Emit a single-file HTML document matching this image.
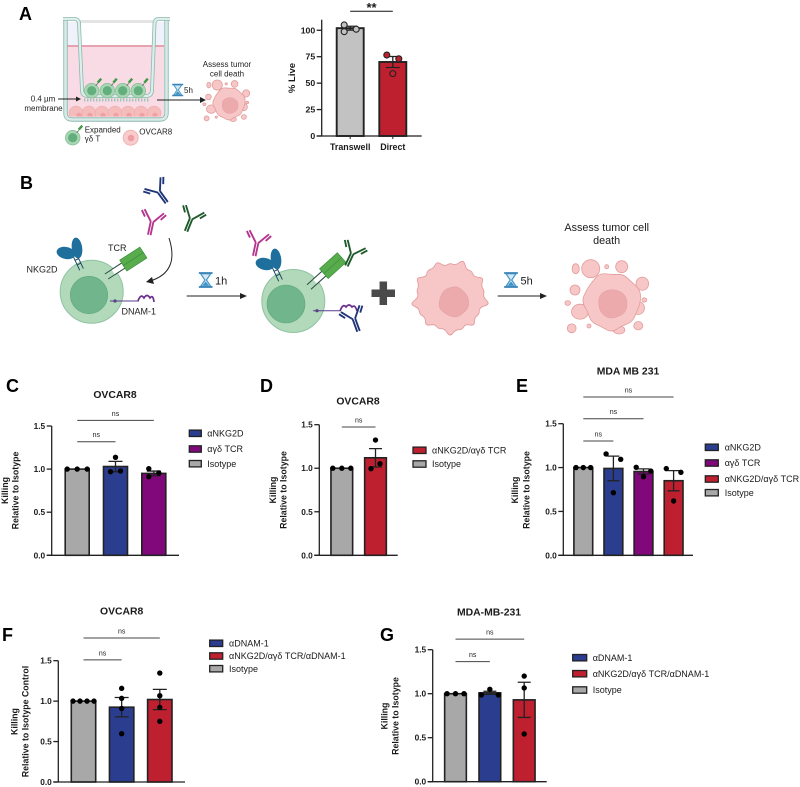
<!DOCTYPE html>
<html>
<head>
<meta charset="utf-8">
<title>Gamma delta T cell killing figure</title>
<style>
html,body{margin:0;padding:0;background:#fff;width:800px;height:787px;overflow:hidden}
svg{display:block;filter:blur(.35px)}
text{font-family:"Liberation Sans","DejaVu Sans",sans-serif;fill:#1a1a1a}
.panel{font-size:18px;font-weight:700;fill:#000}
.ill{font-size:8px;fill:#222}
.ill2{font-size:9px;fill:#222}
</style>
</head>
<body>
<svg id="figure" xmlns="http://www.w3.org/2000/svg" width="800" height="787" viewBox="0 0 800 787">
<defs>
  <g id="ab" fill="none" stroke="currentColor" stroke-width="1.7" stroke-linecap="butt">
    <path d="M-1.2,0V12M1.2,0V12"/>
    <path d="M-1,0L-9,-10M1,0L9,-10"/>
    <path d="M-7.3,-3.5L-11.3,-8.8M7.3,-3.5L11.3,-8.8"/>
  </g>
  <g id="hourglass">
    <path d="M-4,-5L4,-5L0.6,0L4,5H-4L-0.6,0Z" fill="#d6e9f5" stroke="#4a9ac8" stroke-width="1"/>
    <path d="M-2.6,4.4H2.6L0,1.2Z" fill="#3c93c8"/>
    <path d="M-5.5,-5.6H5.5M-5.5,5.6H5.5" stroke="#3a84b8" stroke-width="1.4"/>
  </g>
  <g id="tcell-small">
    <circle r="7.3" fill="#a9d6b2" stroke="#86bd98" stroke-width=".7"/>
    <circle r="4.6" fill="#62ae7d"/>
    <path d="M4,-5L6,-7.5" stroke="#666" stroke-width=".8"/>
    <path d="M6,-8L9.5,-12" stroke="#3f9a45" stroke-width="2.4"/>
  </g>
  <g id="tcr">
    <path d="M0,-3H20M0,3H20" stroke="#2d4a44" stroke-width="1"/>
    <rect x="8" y="-3" width="12" height="6" fill="#fff"/>
    <path d="M8,-3H20M8,3H20" stroke="#2d4a44" stroke-width="1"/>
    <rect x="20" y="-6.5" width="24" height="6.5" fill="#58ac4c" stroke="#3d9040" stroke-width=".7"/>
    <rect x="20" y="0" width="24" height="6.5" fill="#58ac4c" stroke="#3d9040" stroke-width=".7"/>
  </g>
  <g id="nkg2d">
    <path d="M-2,-10L-2,6M2,-10L2,6M-2,-5H2M-2,0H2" transform="rotate(-25)" stroke="#1d4a63" stroke-width="1" fill="none"/>
    <ellipse cx="-13" cy="-11" rx="9.5" ry="6" transform="rotate(12 -13 -11)" fill="#1f6f9c"/>
    <ellipse cx="-2" cy="-16" rx="5.2" ry="10.5" transform="rotate(-8 -2 -16)" fill="#1f6f9c"/>
  </g>
  <clipPath id="well-clip"><rect x="67" y="98" width="97" height="18.5"/></clipPath>
</defs>

<g id="panel-labels">
  <text class="panel" x="19" y="20">A</text>
  <text class="panel" x="20" y="189">B</text>
  <text class="panel" x="6" y="392">C</text>
  <text class="panel" x="260" y="392">D</text>
  <text class="panel" x="516" y="392">E</text>
  <text class="panel" x="2" y="641">F</text>
  <text class="panel" x="380" y="641">G</text>
</g>

<g id="transwell-illustration">
  <rect x="67" y="22" width="97" height="23" fill="#eff2fa"/>
  <rect x="67" y="45" width="97" height="72" fill="#f9dbe6"/>
  <path d="M80,22H153L153,45H80Z" fill="#fff"/>
  <rect x="80" y="20" width="73" height="3" fill="#e4e4e4"/>
  <rect x="67" y="45" width="97" height="2" fill="#e6a2ae"/>
  <g clip-path="url(#well-clip)">
    <g fill="#f5bcbc" stroke="#eda5a5" stroke-width=".5">
      <circle cx="76" cy="113" r="7"/><circle cx="89" cy="113" r="7"/><circle cx="102" cy="113" r="7"/><circle cx="115" cy="113" r="7"/><circle cx="128" cy="113" r="7"/><circle cx="141" cy="113" r="7"/><circle cx="154" cy="113" r="7"/>
    </g>
    <g fill="#ef9fa2">
      <circle cx="79" cy="115.500" r="2.700"/><circle cx="90" cy="115.500" r="2.700"/><circle cx="103" cy="115.500" r="2.700"/><circle cx="116" cy="115.500" r="2.700"/><circle cx="129" cy="115.500" r="2.700"/><circle cx="142" cy="115.500" r="2.700"/><circle cx="155" cy="115.500" r="2.700"/>
    </g>
  </g>
  <path d="M65.5,20V113Q65.5,119.5 72,119.5H160Q166.5,119.5 166.5,113V20" fill="none" stroke="#8fb8b0" stroke-width="4.4"/>
  <path d="M65.5,20V113Q65.5,119.5 72,119.5H160Q166.5,119.5 166.5,113V20" fill="none" stroke="#d8ebe7" stroke-width="2.6"/>
  <path d="M63,19H74Q79,19 79,24L82,90Q82,96 88,96H146Q152,96 152,90L154.500,24Q154.500,19 159,19H170" fill="none" stroke="#8fb8b0" stroke-width="3.8"/>
  <path d="M63,19H74Q79,19 79,24L82,90Q82,96 88,96H146Q152,96 152,90L154.500,24Q154.500,19 159,19H170" fill="none" stroke="#dcefea" stroke-width="2.200"/>
  <path d="M84,100H150" stroke="#9fc5bb" stroke-width="3" stroke-dasharray="1.4,1.6"/>
  <use href="#tcell-small" x="91.700" y="90.700"/>
  <use href="#tcell-small" x="107.300" y="90.700"/>
  <use href="#tcell-small" x="122.700" y="90.700"/>
  <use href="#tcell-small" x="138.300" y="90.700"/>
  <path d="M58,99H77" stroke="#222" stroke-width=".9"/><path d="M81,99L76,96.500V101.500Z" fill="#222"/>
  <text class="ill" x="43" y="101.500" text-anchor="middle">0.4 µm</text>
  <text class="ill" x="43.500" y="111" text-anchor="middle">membrane</text>
  <path d="M157,100H201" stroke="#222" stroke-width=".9"/><path d="M206,100L200,97V103Z" fill="#222"/>
  <use href="#hourglass" x="177.700" y="90"/>
  <text class="ill" x="184" y="93">5h</text>
  <text class="ill" x="227" y="67" text-anchor="middle">Assess tumor</text>
  <text class="ill" x="227" y="76.500" text-anchor="middle">cell death</text>
  <g id="dead-cell-small"></g>
  <use href="#tcell-small" x="72.700" y="137.700"/>
  <text class="ill" x="84.700" y="132.500">Expanded</text>
  <text class="ill" x="84.700" y="141.500">γδ T</text>
  <circle cx="130.700" cy="137.700" r="7.500" fill="#f8cccc" stroke="#f0b5b5"/>
  <circle cx="131" cy="138" r="3.300" fill="#ec9fa2"/>
  <text class="ill" x="139.300" y="134.500">OVCAR8</text>
</g>

<g id="workflow-illustration">
  <use href="#ab" transform="translate(159,192) rotate(-36) scale(1.1)" color="#1f3578"/>
  <use href="#ab" transform="translate(152,222) rotate(12) scale(1.1)" color="#b5358f"/>
  <use href="#ab" transform="translate(191,219) rotate(22) scale(1.1)" color="#1f5a2c"/>

  <circle cx="91.700" cy="291.700" r="31.500" fill="#b1d9ba" stroke="#8fc3a2"/>
  <circle cx="89" cy="295" r="18.700" fill="#70b58b" stroke="#5da67a" stroke-width=".6"/>
  <use href="#nkg2d" transform="translate(79,264)"/>
  <use href="#tcr" transform="translate(106.500,276.500) rotate(-33)"/>
  <path d="M110,301H139" stroke="#5a3d8c" stroke-width="1"/><circle cx="115" cy="301" r="1.600" fill="#5a3d8c"/>
  <path d="M138,301Q141,293 144,298Q147,293 150,298Q153,294 154,302" fill="none" stroke="#6b2f8c" stroke-width="1.700"/>
  <text class="ill2" x="108" y="251">TCR</text>
  <text class="ill2" x="26.500" y="272.500">NKG2D</text>
  <text class="ill2" x="121.500" y="314.500">DNAM-1</text>
  <path d="M169,238Q180,272 150,281" fill="none" stroke="#222" stroke-width="1"/><path d="M146,282L152,277L154,284Z" fill="#222"/>

  <path d="M186.700,296H241" stroke="#222" stroke-width="1"/><path d="M247,296L240,293V299Z" fill="#222"/>
  <use href="#hourglass" transform="translate(205.700,280) scale(1.250)"/>
  <text x="215" y="284.500" font-size="11">1h</text>

  <circle cx="293.300" cy="301" r="31.500" fill="#b1d9ba" stroke="#8fc3a2"/>
  <circle cx="286" cy="304" r="19" fill="#70b58b" stroke="#5da67a" stroke-width=".6"/>
  <use href="#nkg2d" transform="translate(278,275)"/>
  <use href="#ab" transform="translate(257,243) rotate(12) scale(1.1)" color="#b5358f"/>
  <use href="#tcr" transform="translate(309,287) rotate(-42)"/>
  <use href="#ab" transform="translate(352,254) rotate(25) scale(1.1)" color="#1f5a2c"/>
  <path d="M313,310.700H341" stroke="#5a3d8c" stroke-width="1"/><circle cx="317" cy="310.700" r="1.600" fill="#5a3d8c"/>
  <path d="M340,311Q343,303 346,307Q349,303 352,307Q355,304 357,311" fill="none" stroke="#6b2f8c" stroke-width="1.700"/>
  <use href="#ab" transform="translate(354,319) rotate(-20) scale(1.1)" color="#1f3578"/>

  <path d="M383.300,281.500V305M371.500,293.300H395" stroke="#4a4a4a" stroke-width="7.500"/>

  <path id="tumor-main" fill="#f7c7c7" stroke="#e29c9c" stroke-width=".9"/>
  <path id="tumor-main-nucleus" fill="#ecaaac" stroke="#e19b9e" stroke-width=".5"/>

  <path d="M497.700,296H541" stroke="#222" stroke-width="1"/><path d="M547,296L540,293V299Z" fill="#222"/>
  <use href="#hourglass" transform="translate(511,280) scale(1.250)"/>
  <text x="520.500" y="284.500" font-size="11">5h</text>

  <text x="606.700" y="231" font-size="10.800" text-anchor="middle">Assess tumor cell</text>
  <text x="606.700" y="244" font-size="10.800" text-anchor="middle">death</text>
  <g id="dead-cell-large"></g>
</g>

<g id="charts"></g>
</svg>

<script>
// ---------- chart data ----------
const aCategories = ["Transwell", "Direct"];
const aMeans = [102, 70];
const aErrors = [1.8, 5.2];
const aPoints = [[105, 101, 98.7], [76.6, 73, 59]];
const aTicks = [0, 25, 50, 75, 100];
const aBrackets = [[0, 1, 118, "**"]];

const cCategories = ["Isotype", "αNKG2D", "αγδ TCR"];
const cMeans = [1.0, 1.03, 0.95];
const cErrors = [0, 0.06, 0.027];
const cPoints = [[1, 1, 1], [1.137, 0.97, 0.978], [1.005, 0.955, 0.912]];
const cTicks = [0, 0.5, 1.0, 1.5];
const cBrackets = [[0, 1, 1.318, "ns"], [0, 2, 1.565, "ns"]];
const cLegend = ["αNKG2D", "αγδ TCR", "Isotype"];

const dCategories = ["Isotype", "αNKG2D/αγδ TCR"];
const dMeans = [1.0, 1.12];
const dErrors = [0, 0.105];
const dPoints = [[1, 1, 1], [1.324, 1.052, 0.995]];
const dTicks = [0, 0.5, 1.0, 1.5];
const dBrackets = [[0, 1, 1.473, "ns"]];
const dLegend = ["αNKG2D/αγδ TCR", "Isotype"];

const eCategories = ["Isotype", "αNKG2D", "αγδ TCR", "αNKG2D/αγδ TCR"];
const eMeans = [1.0, 0.99, 0.955, 0.85];
const eErrors = [0, 0.14, 0.03, 0.115];
const ePoints = [[1, 1, 1], [1.155, 1.094, 0.714], [1.003, 0.96, 0.896], [0.988, 0.946, 0.619]];
const eTicks = [0, 0.5, 1.0, 1.5];
const eBrackets = [[0, 1, 1.303, "ns"], [0, 2, 1.557, "ns"], [0, 3, 1.805, "ns"]];
const eLegend = ["αNKG2D", "αγδ TCR", "αNKG2D/αγδ TCR", "Isotype"];

const fCategories = ["Isotype", "αDNAM-1", "αNKG2D/αγδ TCR/αDNAM-1"];
const fMeans = [1.0, 0.925, 1.02];
const fErrors = [0, 0.12, 0.125];
const fPoints = [[1, 1, 1, 1], [1.158, 1.034, 0.91, 0.597], [1.347, 1.067, 0.923, 0.75]];
const fTicks = [0, 0.5, 1.0, 1.5];
const fBrackets = [[0, 1, 1.51, "ns"], [0, 2, 1.78, "ns"]];
const fLegend = ["αDNAM-1", "αNKG2D/αγδ TCR/αDNAM-1", "Isotype"];

const gCategories = ["Isotype", "αDNAM-1", "αNKG2D/αγδ TCR/αDNAM-1"];
const gMeans = [1.0, 1.01, 0.93];
const gErrors = [0, 0.018, 0.2];
const gPoints = [[1, 1, 1], [1.05, 0.985, 0.985], [1.2, 1.065, 0.542]];
const gTicks = [0, 0.5, 1.0, 1.5];
const gBrackets = [[0, 1, 1.364, "ns"], [0, 2, 1.62, "ns"]];
const gLegend = ["αDNAM-1", "αNKG2D/αγδ TCR/αDNAM-1", "Isotype"];

// ---------- colours by group ----------
const groupColors = {
  "Isotype": "#a8a8a8",
  "αNKG2D": "#2a3d8f",
  "αDNAM-1": "#2a3d8f",
  "αγδ TCR": "#80087a",
  "αNKG2D/αγδ TCR": "#be2030",
  "αNKG2D/αγδ TCR/αDNAM-1": "#be2030",
  "Transwell": "#c2c2c2",
  "Direct": "#be2030"
};

const NS = "http://www.w3.org/2000/svg";
function mk(tag, attrs, parent) {
  const n = document.createElementNS(NS, tag);
  for (const k in attrs) n.setAttribute(k, attrs[k]);
  parent.appendChild(n);
  return n;
}

function drawChart(spec) {
  const root = document.getElementById("charts");
  const g = mk("g", {}, root);
  
  
  const yScale = v => spec.y0 - (v / spec.yMax) * (spec.y0 - spec.yTop);
  const xScale = i => spec.x0 + i * spec.step;
  const ink = "#222";

  // bars
  spec.categories.forEach((c, i) => {
    const bar = mk("rect", {
      x: xScale(i) - spec.barW / 2,
      y: yScale(spec.means[i]),
      width: spec.barW,
      height: spec.y0 - yScale(spec.means[i]),
      fill: groupColors[c], stroke: ink, "stroke-width": spec.barStroke
    }, g);
    
    
  });

  // axes
  const yAxis = mk("line", { x1: spec.axisX, x2: spec.axisX, y1: spec.yTop, y2: spec.y0, stroke: ink, "stroke-width": 1.3 }, g);
  
  
  const xAxis = mk("line", { x1: spec.axisX - 5, x2: spec.xEnd, y1: spec.y0, y2: spec.y0, stroke: ink, "stroke-width": 1.3 }, g);
  
  

  spec.ticks.forEach(t => {
    const tick = mk("line", { x1: spec.axisX - 5, x2: spec.axisX, y1: yScale(t), y2: yScale(t), stroke: ink, "stroke-width": 1.3 }, g);
    
    
    const lab = mk("text", { x: spec.axisX - 6.5, y: yScale(t) + 3, "text-anchor": "end", "font-size": spec.tickSize, "font-weight": 700 }, g);
    
    
    lab.textContent = spec.tickFormat(t);
  });

  // error bars
  spec.categories.forEach((c, i) => {
    if (!spec.errors[i]) return;
    const x = xScale(i), hi = yScale(spec.means[i] + spec.errors[i]), lo = yScale(spec.means[i] - spec.errors[i]);
    const err = mk("path", {
      d: "M" + (x - spec.cap) + "," + hi + "H" + (x + spec.cap) + "M" + x + "," + hi + "V" + lo + "M" + (x - spec.cap) + "," + lo + "H" + (x + spec.cap),
      fill: "none", stroke: ink, "stroke-width": 1.3
    }, g);
    
    
  });

  // points
  spec.points.forEach((series, i) => {
    series.forEach((v, j) => {
      const dot = mk("circle", {
        cx: xScale(i) + spec.lanes[i][j] * spec.laneGap,
        cy: yScale(v),
        r: spec.dotR,
        fill: spec.dotFill ? groupColors[spec.categories[i]] : "#000",
        stroke: spec.dotFill ? "#222" : "none",
        "stroke-width": 1.1
      }, g);
      
      
    });
  });

  // significance brackets
  spec.brackets.forEach(b => {
    const y = yScale(b[2]);
    const stars = b[3] === "**";
    const line = mk("line", { x1: xScale(b[0]), x2: xScale(b[1]), y1: y, y2: y, stroke: stars ? "#111" : "#444", "stroke-width": 1 }, g);
    
    
    const t = mk("text", {
      x: (xScale(b[0]) + xScale(b[1])) / 2,
      y: stars ? y + 0.5 : y - 4.5,
      "text-anchor": "middle",
      "font-size": stars ? 13 : 7,
      "font-weight": stars ? 700 : 400,
      fill: stars ? "#000" : "#333"
    }, g);
    
    
    t.textContent = b[3];
  });

  // title
  if (spec.title) {
    const title = mk("text", { x: spec.titleX, y: spec.titleY, "text-anchor": "middle", "font-size": 10.4, "font-weight": 700 }, g);
    
    
    title.textContent = spec.title;
  }

  // y axis title
  spec.yTitle.forEach((line, i) => {
    const px = spec.yTitleX[i], py = spec.yTitleY;
    const t = mk("text", { x: px, y: py, transform: "rotate(-90 " + px + " " + py + ")", "text-anchor": "middle", "font-size": spec.yTitleSize, "font-weight": 700 }, g);
    
    
    t.textContent = line;
  });

  // x labels (panel A only)
  if (spec.xLabels) {
    spec.categories.forEach((c, i) => {
      const tick = mk("line", { x1: xScale(i), x2: xScale(i), y1: spec.y0, y2: spec.y0 + 3, stroke: ink, "stroke-width": 1 }, g);
      
      
      const t = mk("text", { x: xScale(i), y: spec.y0 + 14, "text-anchor": "middle", "font-size": 8.9, "font-weight": 700 }, g);
      
      
      t.textContent = c;
    });
  }

  // legend
  if (spec.legend) {
    spec.legend.forEach((name, i) => {
      const row = mk("g", {}, g);
      
      
      const y = spec.legendY[i];
      const sw = mk("rect", { x: spec.legendX, y: y - 3.2, width: spec.legendW, height: 6.4, fill: groupColors[name], stroke: "#222", "stroke-width": 1.3 }, row);
      
      
      const t = mk("text", { x: spec.legendTextX, y: y + 3.1, "font-size": 9, fill: "#222" }, row);
      
      
      t.textContent = name;
    });
  }
}

const oneDecimal = t => t.toFixed(1);

drawChart({ id: "a", categories: aCategories, means: aMeans, errors: aErrors, points: aPoints, ticks: aTicks, brackets: aBrackets,
  y0: 136, yTop: 19.7, yMax: 110, axisX: 321.7, xEnd: 421.7, x0: 350.2, step: 42.6, barW: 27, cap: 7, barStroke: 1.9, tickSize: 8.7,
  lanes: [[-1, 1, -1], [-1, 1, 0]], laneGap: 6, dotR: 3, dotFill: true, tickFormat: t => String(t),
  yTitle: ["% Live"], yTitleX: [295], yTitleY: 78, yTitleSize: 9.5, xLabels: true });

drawChart({ id: "c", title: "OVCAR8", titleX: 115, titleY: 398, categories: cCategories, means: cMeans, errors: cErrors, points: cPoints, ticks: cTicks, brackets: cBrackets,
  y0: 555.3, yTop: 426, yMax: 1.5, axisX: 51.7, xEnd: 179, x0: 77.2, step: 38.3, barW: 24, cap: 7, barStroke: 1.6, tickSize: 8.3,
  lanes: [[-1, 0, 1], [0, -0.5, 0.5], [-0.5, 0.5, -0.5]], laneGap: 10, dotR: 2.7, tickFormat: oneDecimal,
  yTitle: ["Killing", "Relative to Isotype"], yTitleX: [8, 18.6], yTitleY: 490.5, yTitleSize: 8.8,
  legend: cLegend, legendX: 189.3, legendW: 12, legendTextX: 207.3, legendY: [433.3, 449, 463.7] });

drawChart({ id: "d", title: "OVCAR8", titleX: 358, titleY: 404.7, categories: dCategories, means: dMeans, errors: dErrors, points: dPoints, ticks: dTicks, brackets: dBrackets,
  y0: 555.3, yTop: 424.7, yMax: 1.5, axisX: 319.3, xEnd: 397.7, x0: 341.8, step: 33.7, barW: 21.7, cap: 6.5, barStroke: 1.6, tickSize: 8.3,
  lanes: [[-1, 0, 1], [0, 0.5, -0.5]], laneGap: 9, dotR: 2.7, tickFormat: oneDecimal,
  yTitle: ["Killing", "Relative to Isotype"], yTitleX: [276, 286.3], yTitleY: 490, yTitleSize: 8.8,
  legend: dLegend, legendX: 413, legendW: 13, legendTextX: 432, legendY: [450.3, 464] });

drawChart({ id: "e", title: "MDA MB 231", titleX: 628, titleY: 374.7, categories: eCategories, means: eMeans, errors: eErrors, points: ePoints, ticks: eTicks, brackets: eBrackets,
  y0: 555.3, yTop: 423.7, yMax: 1.5, axisX: 563.3, xEnd: 693, x0: 583.3, step: 30.1, barW: 18.8, cap: 6, barStroke: 1.6, tickSize: 8.3,
  lanes: [[-1, 0, 1], [-1, 1, 0], [-1, 1, 0], [-1, 1, 0]], laneGap: 7.3, dotR: 2.7, tickFormat: oneDecimal,
  yTitle: ["Killing", "Relative to Isotype"], yTitleX: [518, 529.3], yTitleY: 490, yTitleSize: 8.8,
  legend: eLegend, legendX: 705.3, legendW: 13, legendTextX: 724.7, legendY: [447.3, 463, 479, 492.7] });

drawChart({ id: "f", title: "OVCAR8", titleX: 121.7, titleY: 614.7, categories: fCategories, means: fMeans, errors: fErrors, points: fPoints, ticks: fTicks, brackets: fBrackets,
  y0: 782, yTop: 660.7, yMax: 1.5, axisX: 58.3, xEnd: 185, x0: 83.5, step: 38.15, barW: 24.4, cap: 7, barStroke: 1.6, tickSize: 8.3,
  lanes: [[-1.5, -0.5, 0.5, 1.5], [0, 0, 0, 0], [0, 0, 0, 0]], laneGap: 7, dotR: 2.7, tickFormat: oneDecimal,
  yTitle: ["Killing", "Relative to Isotype Control"], yTitleX: [17.3, 28.6], yTitleY: 721.5, yTitleSize: 8.8,
  legend: fLegend, legendX: 209.7, legendW: 13, legendTextX: 229, legendY: [643.3, 656, 668.7] });

drawChart({ id: "g", title: "MDA-MB-231", titleX: 489, titleY: 615.3, categories: gCategories, means: gMeans, errors: gErrors, points: gPoints, ticks: gTicks, brackets: gBrackets,
  y0: 781.7, yTop: 649.7, yMax: 1.5, axisX: 432.7, xEnd: 546.7, x0: 455.5, step: 34.35, barW: 21.7, cap: 6.5, barStroke: 1.6, tickSize: 8.3,
  lanes: [[-1, 0, 1], [0, -1, 1], [0, 0, 0]], laneGap: 8.5, dotR: 2.7, tickFormat: oneDecimal,
  yTitle: ["Killing", "Relative to Isotype"], yTitleX: [387.3, 398.6], yTitleY: 716, yTitleSize: 8.8,
  legend: gLegend, legendX: 572.7, legendW: 14, legendTextX: 592.7, legendY: [657.7, 673.7, 690] });

// ---------- illustration blobs (decorative outlines, not chart data) ----------
function blobPath(cx, cy, radii) {
  const n = radii.length;
  const pts = radii.map((r, i) => {
    const a = (i / n) * Math.PI * 2;
    return [cx + r * Math.cos(a), cy + r * Math.sin(a)];
  });
  let d = "";
  pts.forEach((p, i) => {
    const q = pts[(i + 1) % n];
    const mx = (p[0] + q[0]) / 2, my = (p[1] + q[1]) / 2;
    if (i === 0) {
      const l = pts[n - 1];
      d += "M" + ((l[0] + p[0]) / 2) + "," + ((l[1] + p[1]) / 2);
    }
    d += "Q" + p[0] + "," + p[1] + " " + mx + "," + my;
  });
  return d + "Z";
}
const tumorOutline = [33, 41, 31, 34, 32, 38, 31, 35, 33, 40, 32, 34, 31, 38, 32, 35, 33, 41, 31, 34, 33, 39, 31, 35, 33, 38, 31, 34, 32, 40, 32, 34, 31, 39, 33, 35];
const nucleusOutline = [15, 15.5, 14.5, 15.5, 15, 14.5, 16, 15, 14.5, 15.5, 15, 16, 14.5, 15];
document.getElementById("tumor-main").setAttribute("d", blobPath(450, 297, tumorOutline));
document.getElementById("tumor-main-nucleus").setAttribute("d", blobPath(454, 302, nucleusOutline));

function deadCell(host, cx, cy, k, nameSuffix) {
  const fill = "#f7c7c7", edge = "#e29c9c";
  const parts = [[-21, -33, 9, 9], [10, -35, 6, 6], [-36, -33, 3.6, 5], [-5, -35, 2, 2], [30.6, -18, 6.3, 6.6], [-36.7, -11.7, 5, 5], [-44, 1.3, 2.8, 2.4], [32.6, -1.7, 2.4, 2.2], [26.6, 24, 4.5, 4.2], [7.3, 28.3, 5.8, 4], [-22.7, 24.3, 2, 2], [-40, 26.6, 4.4, 4.4], [-31.7, 10, 8.5, 7.5], [26.3, 6.3, 6.5, 6.5]];
  parts.forEach(p => {
    const e = mk("ellipse", { cx: cx + p[0] * k, cy: cy + p[1] * k, rx: p[2] * k, ry: p[3] * k, fill: fill, stroke: edge, "stroke-width": 0.8 }, host);
    
    
  });
  const body = mk("path", { d: blobPath(cx, cy, [29, 27, 29, 26, 31, 27, 29, 26, 30, 28, 28, 31, 27, 30, 28, 31].map(r => r * k)), fill: fill, stroke: edge, "stroke-width": 0.8 }, host);
  
  
  const nuc = mk("path", { d: blobPath(cx + 1, cy + 2, [15, 15.500, 14.500, 15.500, 15, 14.500, 16, 15, 14.500, 15.500].map(r => r * k)), fill: "#ecaaac", stroke: "#e19b9e", "stroke-width": 0.4 }, host);
  
  
}
deadCell(document.getElementById("dead-cell-small"), 229, 103.5, 0.56, "-small");
deadCell(document.getElementById("dead-cell-large"), 611.7, 301.7, 1, "-large");
</script>
</body>
</html>
